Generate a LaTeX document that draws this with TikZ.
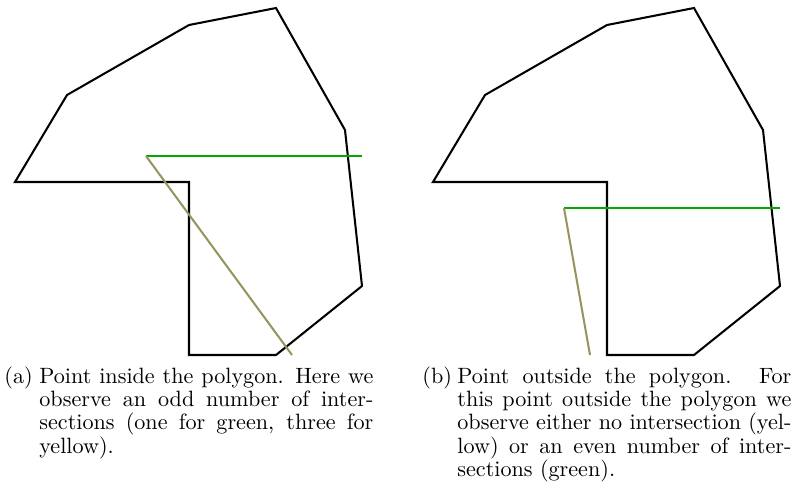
\documentclass[tikz,border=0pt]{standalone}
\usepackage{tikz}
\definecolor{raygreen}{RGB}{0,170,0}
\definecolor{rayolive}{RGB}{150,148,95}
\tikzset{
  poly/.style={draw=black, line width=1pt, line join=miter},
  gray ray/.style={line width=1pt},
  captext/.style={anchor=base west, inner sep=0pt, text width=180.8pt, align=justify, font=\fontsize{10.85}{11.47}\selectfont}
}
\newcommand{\capbody}[2]{\noindent\makebox[17.15pt][l]{#1}\hangindent=17.15pt\hangafter=1 #2\par}
\begin{document}
\begin{tikzpicture}[x=0.49pt, y=-0.49pt]
\useasboundingbox (0,0) rectangle (795,484);
% left polygon
\coordinate (a1) at (15,182);
\coordinate (a2) at (67,95);
\coordinate (a3) at (189,25);
\coordinate (a4) at (276,8);
\coordinate (a5) at (345,130);
\coordinate (a6) at (362,286);
\coordinate (a7) at (276,355);
\coordinate (a8) at (189,355);
\coordinate (a9) at (189,182);
\draw[poly] (a1) -- (a2) -- (a3) -- (a4) -- (a5) -- (a6) -- (a7) -- (a8) -- (a9) -- cycle;
\coordinate (pa) at (146,156);
\coordinate (ga) at (362,156);
\coordinate (ya) at (292,355);
\draw[gray ray, raygreen] (pa) -- (ga);
\draw[gray ray, rayolive] (pa) -- (ya);
% right polygon
\coordinate (b1) at (433,182);
\coordinate (b2) at (485,95);
\coordinate (b3) at (607,25);
\coordinate (b4) at (694,8);
\coordinate (b5) at (763,130);
\coordinate (b6) at (780,286);
\coordinate (b7) at (694,355);
\coordinate (b8) at (607,355);
\coordinate (b9) at (607,182);
\draw[poly] (b1) -- (b2) -- (b3) -- (b4) -- (b5) -- (b6) -- (b7) -- (b8) -- (b9) -- cycle;
\coordinate (pb) at (564,208);
\coordinate (gb) at (780,208);
\coordinate (yb) at (590,355);
\draw[gray ray, raygreen] (pb) -- (gb);
\draw[gray ray, rayolive] (pb) -- (yb);
% captions
\node[captext] (capa) at (4,383) {\capbody{(a)}{Point inside the polygon. Here we\linebreak observe an odd number of inter-\linebreak sections (one for green, three for\linebreak yellow).}};
\node[captext] (capb) at (422,383) {\capbody{(b)}{Point outside the polygon. For\linebreak this point outside the polygon we\linebreak observe either no intersection (yel-\linebreak low) or an even number of inter-\linebreak sections (green).}};
\end{tikzpicture}
\end{document}
